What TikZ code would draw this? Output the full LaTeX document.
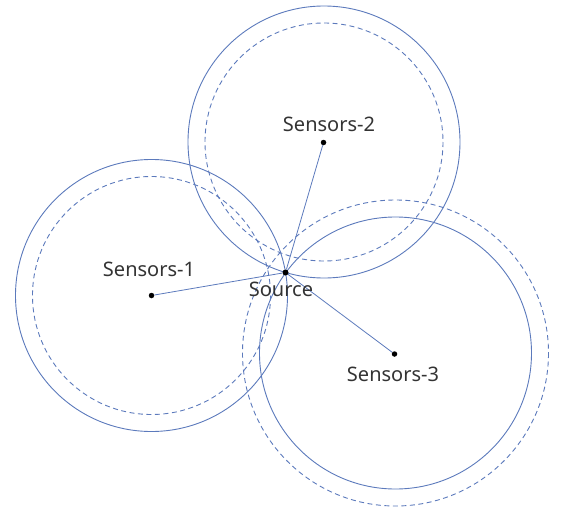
\documentclass[tikz,border=0pt]{standalone}
\usepackage{fontspec}
\setmainfont{Noto Sans}
\usetikzlibrary{positioning}

\definecolor{rangeblue}{RGB}{92,122,188}
\definecolor{labelgrey}{RGB}{51,51,51}

\tikzset{
	rangering/.style = {draw = rangeblue, line width = 0.9pt},
	errring/.style = {rangering, dash pattern = on 5pt off 3.5pt},
	link/.style = {draw = rangeblue, line width = 0.8pt},
	dot/.style = {circle, fill = black, inner sep = 0pt, minimum size = 5.5pt},
	tag/.style = {anchor = base, inner sep = 0pt, text = labelgrey, font = \fontsize{20}{24}\selectfont}
}

\begin{document}
\begin{tikzpicture}[x = 1pt, y = -1pt]
	%	canvas
	\useasboundingbox (0, 0) rectangle (563, 517);
	
	%	ranges
	\def\rA{136}
	\def\rB{136}
	\def\rC{136}
	
	\draw[rangering] (151.5, 295.5) circle (\rA);
	\draw[errring] (151.5, 295.5) circle (119);
	
	\draw[rangering] (324, 142) circle (\rB);
	\draw[errring] (324, 142) circle (119);
	
	\draw[rangering] (395.5, 353) circle (\rC);
	\draw[errring] (395.5, 353) circle (153);
	
	%	sensors and source
	\node[dot] (s1) at (151.5, 295.5) {};
	\node[dot] (s2) at (323.5, 142.5) {};
	\node[dot] (s3) at (394.5, 354) {};
	\node[dot, minimum size = 6pt] (src) at (285.5, 272.5) {};
	
	\draw[link] (src) -- (s1);
	\draw[link] (src) -- (s2);
	\draw[link] (src) -- (s3);
	
	%	labels
	\node[tag] (t1) at (149, 276.5) {Sensors-1};
	\node[tag] (t2) at (329, 131.5) {Sensors-2};
	\node[tag] (t3) at (393, 381.5) {Sensors-3};
	\node[tag] (t0) at (281, 296) {Source};
\end{tikzpicture}
\end{document}
